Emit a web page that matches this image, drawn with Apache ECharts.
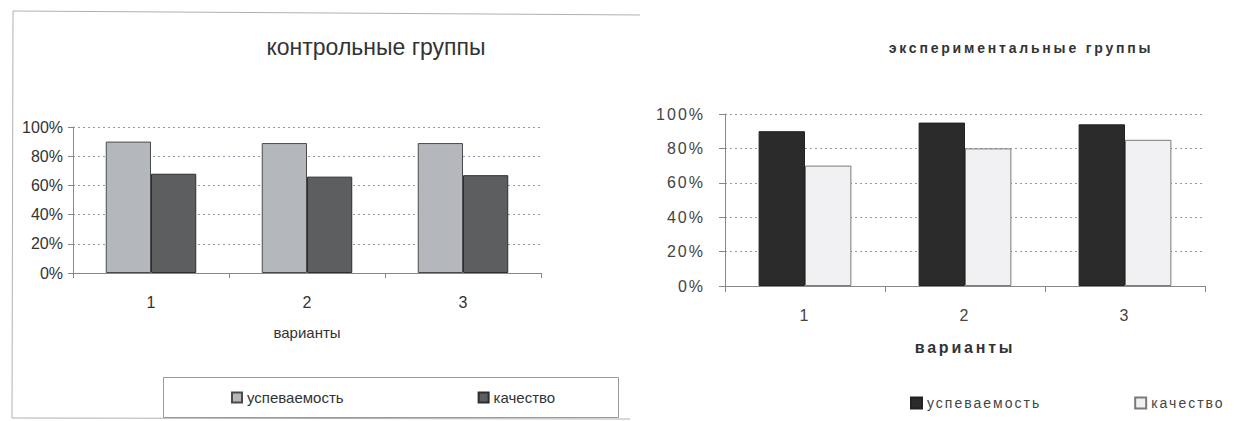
<!DOCTYPE html>
<html>
<head>
<meta charset="utf-8">
<script src="https://cdn.jsdelivr.net/npm/echarts@6/dist/echarts.min.js"></script>
<style>
  html, body { margin: 0; padding: 0; background: #ffffff; }
  #wrap { position: relative; width: 1234px; height: 421px; overflow: hidden; }
  #left { position: absolute; left: 0; top: 0; width: 640px; height: 421px; }
  #right { position: absolute; left: 640px; top: 0; width: 594px; height: 421px; }
  #right text { letter-spacing: 2px; }
  #right text[style*="bold"] { letter-spacing: 2.8px; }
</style>
</head>
<body>
<div id="wrap">
  <div id="left"></div>
  <div id="right"></div>
</div>
<script>
// ---- data ----
const categories = ['1', '2', '3'];
const seriesNames = ['успеваемость', 'качество'];
const yTicks = [0, 20, 40, 60, 80, 100];

const controlTitle = 'контрольные группы';
const controlUspev = [90, 89, 89];
const controlKach = [68, 66, 67];

const expTitle = 'экспериментальные группы';
const expUspev = [90, 95, 94];
const expKach = [70, 80, 85];

const xAxisName = 'варианты';

// ---- left chart ----
const leftFont = '"Liberation Sans", Arial, sans-serif';
const left = echarts.init(document.getElementById('left'), null, { renderer: 'svg' });
left.setOption({
  animation: false,
  backgroundColor: '#ffffff',
  title: {
    text: controlTitle,
    left: 371, top: 30,
    textAlign: 'center',
    textStyle: { fontFamily: leftFont, fontSize: 23, fontWeight: 'normal', color: '#333' }
  },
  grid: { left: 73, right: 99, top: 127, bottom: 148, containLabel: false },
  legend: {
    data: seriesNames,
    left: 231, top: 390, padding: 0,
    itemWidth: 10, itemHeight: 10, itemGap: 134,
    icon: 'rect',
    textStyle: { fontFamily: leftFont, fontSize: 15, color: '#333' }
  },
  xAxis: {
    type: 'category',
    data: categories,
    name: xAxisName,
    nameLocation: 'middle',
    nameGap: 52,
    nameTextStyle: { fontFamily: leftFont, fontSize: 15, color: '#333' },
    axisLine: { lineStyle: { color: '#888', width: 1 } },
    axisTick: { show: true, length: 5, lineStyle: { color: '#888' } },
    axisLabel: { margin: 21, fontFamily: leftFont, fontSize: 16, color: '#333' }
  },
  yAxis: {
    type: 'value',
    min: 0, max: 100, interval: 20,
    axisLine: { show: true, lineStyle: { color: '#888', width: 1 } },
    axisTick: { show: true, length: 5, lineStyle: { color: '#888' } },
    axisLabel: { margin: 10, fontFamily: leftFont, fontSize: 16, color: '#333',
      formatter: v => yTicks.includes(v) ? v + '%' : '' },
    splitLine: { lineStyle: { color: '#8e9aa8', type: [2, 3], width: 1 } }
  },
  series: [
    {
      name: seriesNames[0], type: 'bar', data: controlUspev,
      barGap: '0%', barCategoryGap: '42%',
      itemStyle: { color: '#b4b7bb', borderColor: '#4a4a4a', borderWidth: 1 }
    },
    {
      name: seriesNames[1], type: 'bar', data: controlKach,
      barGap: '0%', barCategoryGap: '42%',
      itemStyle: { color: '#5d5e60', borderColor: '#2e2e2e', borderWidth: 1 }
    }
  ],
  graphic: [
    { type: 'polyline', silent: true,
      shape: { points: [[643, 15], [13, 11], [12, 418], [630, 419]] },
      style: { stroke: '#b0b0b0', lineWidth: 1, fill: null } },
    { type: 'rect', silent: true,
      shape: { x: 163.5, y: 377.5, width: 455, height: 40 },
      style: { stroke: '#9a9a9a', lineWidth: 1, fill: null } }
  ]
});

// ---- right chart ----
const rightFont = '"Liberation Sans", Arial, sans-serif';
const right = echarts.init(document.getElementById('right'), null, { renderer: 'svg' });
right.setOption({
  animation: false,
  backgroundColor: '#ffffff',
  title: {
    text: expTitle,
    left: 376, top: 36,
    textAlign: 'center',
    textStyle: { fontFamily: rightFont, fontSize: 14, fontWeight: 'bold', color: '#333' }
  },
  grid: { left: 85, right: 29, top: 114, bottom: 135, containLabel: false },
  legend: {
    data: seriesNames,
    left: 270, top: 396, padding: 0,
    itemWidth: 11, itemHeight: 11, itemGap: 117,
    icon: 'rect',
    textStyle: { fontFamily: rightFont, fontSize: 14, color: '#444' }
  },
  xAxis: {
    type: 'category',
    data: categories,
    name: xAxisName,
    nameLocation: 'middle',
    nameGap: 53,
    nameTextStyle: { fontFamily: rightFont, fontSize: 16, fontWeight: 'bold', color: '#333' },
    axisLine: { lineStyle: { color: '#888', width: 1 } },
    axisTick: { show: true, length: 6, lineStyle: { color: '#888' } },
    axisLabel: { margin: 21, fontFamily: rightFont, fontSize: 16, color: '#444' }
  },
  yAxis: {
    type: 'value',
    min: 0, max: 100, interval: 20,
    axisLine: { show: true, lineStyle: { color: '#888', width: 1 } },
    axisTick: { show: true, length: 6, lineStyle: { color: '#888' } },
    axisLabel: { margin: 20, fontFamily: rightFont, fontSize: 16, color: '#444',
      formatter: v => yTicks.includes(v) ? v + '%' : '' },
    splitLine: { lineStyle: { color: '#9a9a9a', type: [2, 3], width: 1 } }
  },
  series: [
    {
      name: seriesNames[0], type: 'bar', data: expUspev,
      barGap: '0%', barCategoryGap: '42%',
      itemStyle: { color: '#2b2b2b', borderColor: '#222', borderWidth: 1 }
    },
    {
      name: seriesNames[1], type: 'bar', data: expKach,
      barGap: '0%', barCategoryGap: '42%',
      itemStyle: { color: '#f1f1f3', borderColor: '#7a7a7a', borderWidth: 1 }
    }
  ]
});
</script>
</body>
</html>
